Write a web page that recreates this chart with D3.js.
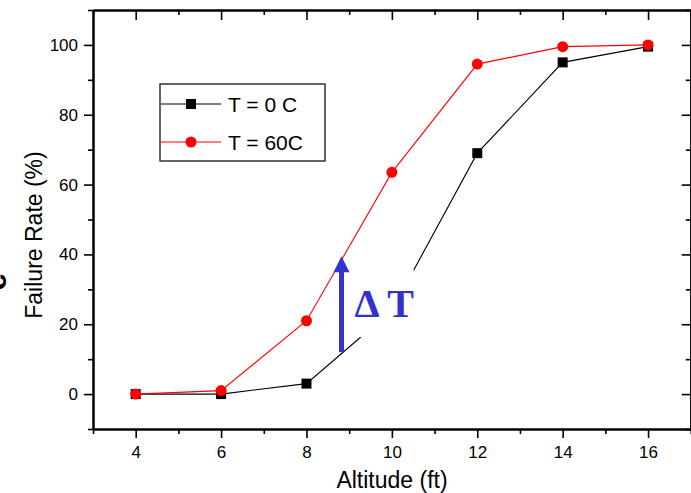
<!DOCTYPE html>
<html>
<head>
<meta charset="utf-8">
<script src="https://cdn.jsdelivr.net/npm/d3@7"></script>
<style>
  body { margin: 0; background: #fff; }
  svg { display: block; font-family: "Liberation Sans", Arial, sans-serif; }
</style>
</head>
<body>
<div id="chart"></div>
<script>
'use strict';

// altitude (ft) on the x axis
var altitudes = [4, 6, 8, 10, 12, 14, 16];
// failure rate (%) for each temperature
var coldRates = [0, 0, 3, 24, 69, 95, 99.5];
var hotRates = [0, 1, 21, 63.5, 94.5, 99.5, 100];
var seriesNames = ['T = 0 C', 'T = 60C'];

var xMajorTicks = [4, 6, 8, 10, 12, 14, 16];
var xMinorTicks = [3, 5, 7, 9, 11, 13, 15, 17];
var yMajorTicks = [0, 20, 40, 60, 80, 100];
var yMinorTicks = [-10, 10, 30, 50, 70, 90, 110];

// delta T annotation: arrow at altitude 8.8 from 12% up to 39.5%
var arrowAt = [8.82, 12, 39.5];

var width = 691, height = 493;
var svg = d3.select('#chart').append('svg')
    .attr('width', width)
    .attr('height', height);

var x = d3.scaleLinear().domain([3, 17]).range([93, 690.75]);
var y = d3.scaleLinear().domain([-10, 110]).range([429, 10]);

// ---- axes, Origin style frame ----
function drawAxis(axis, tx, ty) {
    var g = svg.append('g')
        .attr('transform', 'translate(' + tx + ',' + ty + ')')
        .call(axis);
    g.select('.domain').attr('stroke', '#000').attr('stroke-width', 2);
    g.selectAll('.tick line').attr('stroke', '#000').attr('stroke-width', 1.6);
    return g;
}

var bottom = drawAxis(d3.axisBottom(x).tickValues(xMajorTicks).tickSize(9).tickSizeOuter(0).tickPadding(8), 0, 429);
bottom.selectAll('.tick text').attr('font-size', 17).attr('fill', '#000')
    .attr('font-family', '"Liberation Sans", Arial, sans-serif');
drawAxis(d3.axisBottom(x).tickValues(xMinorTicks).tickSize(5).tickSizeOuter(0).tickFormat(''), 0, 429);

var left = drawAxis(d3.axisLeft(y).tickValues(yMajorTicks).tickSize(9).tickSizeOuter(0).tickPadding(6), 93, 0);
left.selectAll('.tick text').attr('font-size', 17).attr('fill', '#000')
    .attr('font-family', '"Liberation Sans", Arial, sans-serif');
drawAxis(d3.axisLeft(y).tickValues(yMinorTicks).tickSize(5).tickSizeOuter(0).tickFormat(''), 93, 0);

drawAxis(d3.axisBottom(x).tickValues(xMajorTicks).tickSize(10).tickSizeOuter(0).tickFormat(''), 0, 10);
drawAxis(d3.axisBottom(x).tickValues(xMinorTicks).tickSize(5).tickSizeOuter(0).tickFormat(''), 0, 10);
drawAxis(d3.axisLeft(y).tickValues(yMajorTicks).tickSize(9).tickSizeOuter(0).tickFormat(''), 690.75, 0);
drawAxis(d3.axisLeft(y).tickValues(yMinorTicks).tickSize(5).tickSizeOuter(0).tickFormat(''), 690.75, 0);

// axis titles
svg.append('text')
    .attr('x', 392).attr('y', 488)
    .attr('text-anchor', 'middle')
    .attr('font-size', 23)
    .text('Altitude (ft)');

svg.append('text')
    .attr('transform', 'translate(42,235) rotate(-90)')
    .attr('text-anchor', 'middle')
    .attr('font-size', 23)
    .text('Failure Rate (%)');

// panel letter, mostly cut off at the far left like in the source figure
svg.append('text')
    .attr('transform', 'translate(6,282) rotate(-90)')
    .attr('text-anchor', 'middle')
    .attr('font-size', 30)
    .attr('font-weight', 'bold')
    .text('c');

// ---- series ----
var line = d3.line()
    .x(function(d) { return x(d[0]); })
    .y(function(d) { return y(d[1]); });

var cold = d3.zip(altitudes, coldRates);
var hot = d3.zip(altitudes, hotRates);

svg.append('path')
    .datum(cold)
    .attr('fill', 'none')
    .attr('stroke', '#000')
    .attr('stroke-width', 1.1)
    .attr('d', line);

svg.append('g').selectAll('rect')
    .data(cold)
    .enter().append('rect')
    .attr('x', function(d) { return x(d[0]) - 5; })
    .attr('y', function(d) { return y(d[1]) - 5; })
    .attr('width', 10).attr('height', 10)
    .attr('fill', '#000');

svg.append('path')
    .datum(hot)
    .attr('fill', 'none')
    .attr('stroke', '#ff0000')
    .attr('stroke-width', 1.1)
    .attr('d', line);

svg.append('g').selectAll('circle')
    .data(hot)
    .enter().append('circle')
    .attr('cx', function(d) { return x(d[0]); })
    .attr('cy', function(d) { return y(d[1]); })
    .attr('r', 5.5)
    .attr('fill', '#ff0000');

// ---- delta T annotation ----
var blue = '#3333cc';
var ax = x(arrowAt[0]);
svg.append('rect')
    .attr('x', ax + 6).attr('y', y(35.5))
    .attr('width', 80).attr('height', y(16.3) - y(35.5))
    .attr('fill', '#fff');

svg.append('text')
    .attr('x', ax + 13).attr('y', 317)
    .attr('font-family', '"Liberation Serif", "Times New Roman", serif')
    .attr('font-weight', 'bold')
    .attr('font-size', 40)
    .attr('fill', blue)
    .text('\u0394 T');

svg.append('line')
    .attr('x1', ax).attr('x2', ax)
    .attr('y1', y(arrowAt[1])).attr('y2', y(arrowAt[2]) + 14)
    .attr('stroke', blue)
    .attr('stroke-width', 5);

svg.append('path')
    .attr('d', 'M' + (ax - 8) + ',' + (y(arrowAt[2]) + 16) +
               'L' + ax + ',' + y(arrowAt[2]) +
               'L' + (ax + 8) + ',' + (y(arrowAt[2]) + 16) + 'Z')
    .attr('fill', blue);

// ---- legend ----
var legend = svg.append('g');
legend.append('rect')
    .attr('x', 160).attr('y', 84)
    .attr('width', 165).attr('height', 77)
    .attr('fill', '#fff')
    .attr('stroke', '#333')
    .attr('stroke-width', 1.5);

var rows = [104, 142];
seriesNames.forEach(function(name, i) {
    var c = i === 0 ? '#000' : '#ff0000';
    legend.append('line')
        .attr('x1', 161).attr('x2', 221)
        .attr('y1', rows[i]).attr('y2', rows[i])
        .attr('stroke', c).attr('stroke-width', 1.1);
    if (i === 0) {
        legend.append('rect')
            .attr('x', 186).attr('y', rows[i] - 5)
            .attr('width', 10).attr('height', 10)
            .attr('fill', c);
    } else {
        legend.append('circle')
            .attr('cx', 191).attr('cy', rows[i])
            .attr('r', 5.5)
            .attr('fill', c);
    }
    legend.append('text')
        .attr('x', 228).attr('y', rows[i] + 8)
        .attr('font-size', 21)
        .text(name);
});
</script>
</body>
</html>
